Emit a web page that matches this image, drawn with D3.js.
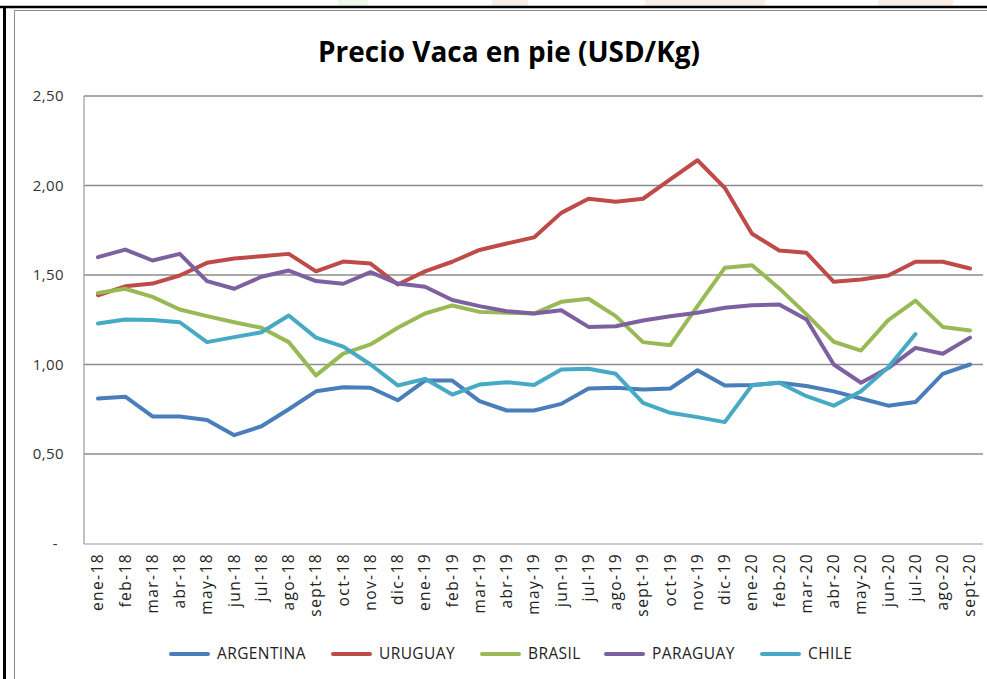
<!DOCTYPE html>
<html>
<head>
<meta charset="utf-8">
<script src="https://cdn.jsdelivr.net/npm/d3@7"></script>
<style>
  body { margin: 0; background: #fff; }
  svg { display: block; }
</style>
</head>
<body>
<div class="canvas"></div>
<script>
const months = [
  "ene-18", "feb-18", "mar-18", "abr-18", "may-18", "jun-18", "jul-18", "ago-18", "sept-18", "oct-18", "nov-18", "dic-18",
  "ene-19", "feb-19", "mar-19", "abr-19", "may-19", "jun-19", "jul-19", "ago-19", "sept-19", "oct-19", "nov-19", "dic-19",
  "ene-20", "feb-20", "mar-20", "abr-20", "may-20", "jun-20", "jul-20", "ago-20", "sept-20"
];
const argentina = [0.81, 0.82, 0.71, 0.71, 0.69, 0.605, 0.655, 0.75, 0.85, 0.873, 0.87, 0.80, 0.91, 0.91, 0.795, 0.743, 0.743,
  0.78, 0.866, 0.87, 0.86, 0.866, 0.968, 0.883, 0.885, 0.898, 0.88, 0.85, 0.81, 0.77, 0.79, 0.948, 1.00];
const uruguay = [1.387, 1.437, 1.452, 1.497, 1.568, 1.592, 1.605, 1.618, 1.52, 1.575, 1.564, 1.447, 1.52, 1.574, 1.64, 1.676, 1.71,
  1.847, 1.926, 1.909, 1.926, 2.034, 2.141, 1.987, 1.73, 1.637, 1.624, 1.462, 1.475, 1.497, 1.574, 1.574, 1.536];
const brasil = [1.40, 1.423, 1.378, 1.307, 1.27, 1.236, 1.205, 1.125, 0.939, 1.061, 1.112, 1.205, 1.285, 1.33, 1.294, 1.289, 1.285,
  1.35, 1.367, 1.27, 1.125, 1.108, 1.326, 1.54, 1.555, 1.425, 1.28, 1.127, 1.078, 1.248, 1.357, 1.21, 1.19];
const paraguay = [1.60, 1.642, 1.581, 1.618, 1.466, 1.423, 1.49, 1.525, 1.466, 1.451, 1.516, 1.452, 1.434, 1.36, 1.326, 1.298, 1.285,
  1.303, 1.21, 1.214, 1.246, 1.27, 1.289, 1.317, 1.331, 1.335, 1.251, 1.00, 0.898, 0.98, 1.093, 1.06, 1.15];
const chile = [1.229, 1.251, 1.248, 1.236, 1.125, 1.153, 1.18, 1.274, 1.15, 1.10, 1.00, 0.883, 0.92, 0.832, 0.888, 0.901, 0.885,
  0.972, 0.976, 0.948, 0.786, 0.73, 0.706, 0.678, 0.884, 0.898, 0.823, 0.77, 0.851, 0.985, 1.17, null, null];

const seriesNames = ["ARGENTINA", "URUGUAY", "BRASIL", "PARAGUAY", "CHILE"];
const seriesValues = [argentina, uruguay, brasil, paraguay, chile];
const seriesColors = ["#4a7ebb", "#be4b48", "#98b954", "#7d60a0", "#46aac5"];
const yTicks = [0, 0.5, 1, 1.5, 2, 2.5];

const width = 987;
const height = 679;
const font = "'Open Sans', sans-serif";

const svg = d3
  .select(".canvas")
  .append("svg")
  .attr("width", width)
  .attr("height", height);

// faint watermark strip above the frame
svg.append("rect").attr("x", 338).attr("y", 0).attr("width", 30).attr("height", 6).attr("fill", "#eef9e9");
svg.append("rect").attr("x", 492).attr("y", 0).attr("width", 36).attr("height", 6).attr("fill", "#f9efe6");
svg.append("rect").attr("x", 645).attr("y", 0).attr("width", 120).attr("height", 6).attr("fill", "#f9efe6");
svg.append("rect").attr("x", 878).attr("y", 0).attr("width", 75).attr("height", 6).attr("fill", "#f9efe6");

// outer frame
svg.append("line").attr("x1", 0).attr("y1", 7).attr("x2", width).attr("y2", 7)
  .attr("stroke", "black").attr("stroke-width", 2.5);
svg.append("line").attr("x1", 4.5).attr("y1", 6).attr("x2", 4.5).attr("y2", height)
  .attr("stroke", "black").attr("stroke-width", 3);
svg.append("line").attr("x1", 14.5).attr("y1", 10.5).attr("x2", 14.5).attr("y2", height)
  .attr("stroke", "#8a8a8a").attr("stroke-width", 1);
svg.append("line").attr("x1", 14.5).attr("y1", 10.5).attr("x2", width).attr("y2", 10.5)
  .attr("stroke", "#8a8a8a").attr("stroke-width", 1);

// title
svg
  .append("text")
  .text("Precio Vaca en pie (USD/Kg)")
  .attr("x", 509)
  .attr("y", 62)
  .attr("text-anchor", "middle")
  .attr("font-family", font)
  .attr("font-weight", "bold")
  .attr("font-size", 28)
  .attr("textLength", 382)
  .attr("lengthAdjust", "spacingAndGlyphs")
  .attr("fill", "black");

// scales
const plotLeft = 84;
const plotRight = 983;
const xScale = d3.scalePoint().domain(months).range([98, 970]);
const yScale = d3.scaleLinear().domain([0, 2.5]).range([543.5, 96]);

// grid lines
const grid = svg.append("g");
grid
  .selectAll("line")
  .data(yTicks.filter((d) => d > 0))
  .enter()
  .append("line")
  .attr("x1", plotLeft)
  .attr("x2", plotRight)
  .attr("y1", (d) => yScale(d))
  .attr("y2", (d) => yScale(d))
  .attr("stroke", "#8c8c8c")
  .attr("stroke-width", 1.5);

// plot border (left + bottom)
svg.append("line").attr("x1", plotLeft).attr("y1", 96).attr("x2", plotLeft).attr("y2", 544)
  .attr("stroke", "#9a9a9a").attr("stroke-width", 1.2);
svg.append("line").attr("x1", plotLeft).attr("y1", 544).attr("x2", plotRight).attr("y2", 544)
  .attr("stroke", "#9a9a9a").attr("stroke-width", 1.2);

// y tick labels
svg
  .append("g")
  .selectAll("text")
  .data(yTicks)
  .enter()
  .append("text")
  .text((d) => (d === 0 ? "-" : d3.format(".2f")(d).replace(".", ",")))
  .attr("x", (d) => (d === 0 ? 58 : 64))
  .attr("y", (d) => yScale(d))
  .attr("dy", "0.35em")
  .attr("text-anchor", "end")
  .attr("font-family", font)
  .attr("font-size", 15)
  .attr("letter-spacing", 0.4)
  .attr("fill", "#333");

// x tick labels, rotated
svg
  .append("g")
  .selectAll("text")
  .data(months)
  .enter()
  .append("text")
  .text((d) => d)
  .attr("transform", (d) => "translate(" + xScale(d) + ",553) rotate(-90)")
  .attr("dy", "0.35em")
  .attr("text-anchor", "end")
  .attr("font-family", font)
  .attr("font-size", 15.5)
  .attr("letter-spacing", 1.4)
  .attr("fill", "#222");

// series lines
const line = d3
  .line()
  .defined((d) => d !== null)
  .x((d, i) => xScale(months[i]))
  .y((d) => yScale(d));

svg
  .append("g")
  .selectAll("path")
  .data(seriesValues)
  .enter()
  .append("path")
  .attr("d", (d) => line(d))
  .attr("fill", "none")
  .attr("stroke", (d, i) => seriesColors[i])
  .attr("stroke-width", 4)
  .attr("stroke-linejoin", "round")
  .attr("stroke-linecap", "round");

// legend
const legendX = [171, 333, 482, 606, 762];
const legendY = 654;
const legend = svg.append("g");
legend
  .selectAll("line")
  .data(seriesNames)
  .enter()
  .append("line")
  .attr("x1", (d, i) => legendX[i])
  .attr("x2", (d, i) => legendX[i] + 37)
  .attr("y1", legendY)
  .attr("y2", legendY)
  .attr("stroke", (d, i) => seriesColors[i])
  .attr("stroke-width", 4)
  .attr("stroke-linecap", "round");
legend
  .selectAll("text")
  .data(seriesNames)
  .enter()
  .append("text")
  .text((d) => d)
  .attr("x", (d, i) => legendX[i] + 46)
  .attr("y", legendY)
  .attr("dy", "0.35em")
  .attr("font-family", font)
  .attr("font-size", 15.5)
  .attr("letter-spacing", 0.4)
  .attr("fill", "#222");
</script>
</body>
</html>
